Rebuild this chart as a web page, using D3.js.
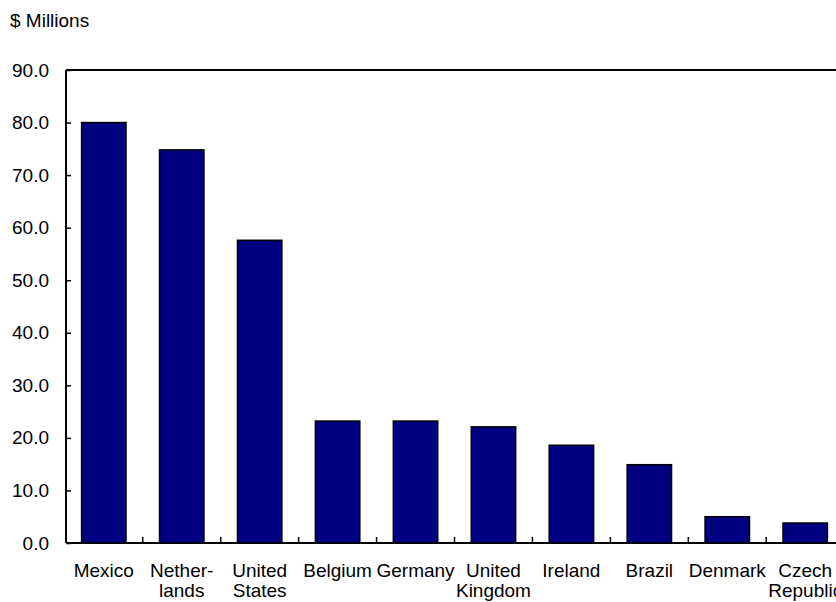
<!DOCTYPE html>
<html>
<head>
<meta charset="utf-8">
<script src="https://cdn.jsdelivr.net/npm/d3@7"></script>
<style>
  html, body { margin: 0; padding: 0; background: #fff; }
  svg { display: block; }
  text { font-family: "Liberation Sans", Arial, sans-serif; fill: #000; }
</style>
</head>
<body>
<svg id="chart" width="836" height="602"></svg>
<script>
const categories = [
  ["Mexico"], ["Nether-", "lands"], ["United", "States"], ["Belgium"], ["Germany"],
  ["United", "Kingdom"], ["Ireland"], ["Brazil"], ["Denmark"], ["Czech", "Republic"]
];
const values = [80.0, 74.8, 57.6, 23.2, 23.2, 22.1, 18.6, 14.9, 5.0, 3.8];
const yTicks = [0, 10, 20, 30, 40, 50, 60, 70, 80, 90];
const yTitle = "$ Millions";

const svg = d3.select("#chart");
const mLeft = 66, mTop = 70, mBottom = 543, mRight = 843;
const fs = 19;

const keys = categories.map((c, i) => i);
const x = d3.scaleBand().domain(keys).range([mLeft, mRight]).paddingInner(0.43).paddingOuter(0.2);
const y = d3.scaleLinear().domain([0, 90]).range([mBottom, mTop]);

// bars
svg.append("g").selectAll("rect").data(values).join("rect")
  .attr("x", (d, i) => x(i))
  .attr("y", d => y(d))
  .attr("width", x.bandwidth())
  .attr("height", d => y(0) - y(d))
  .attr("fill", "#000080")
  .attr("stroke", "#000")
  .attr("stroke-width", 1.5);

// frame: top line, left axis, bottom axis
svg.append("line").attr("x1", mLeft).attr("x2", mRight).attr("y1", mTop).attr("y2", mTop)
  .attr("stroke", "#000").attr("stroke-width", 2);
svg.append("line").attr("x1", mLeft).attr("x2", mLeft).attr("y1", mTop).attr("y2", mBottom)
  .attr("stroke", "#000").attr("stroke-width", 2);
svg.append("line").attr("x1", mLeft).attr("x2", mRight).attr("y1", mBottom).attr("y2", mBottom)
  .attr("stroke", "#000").attr("stroke-width", 2);

// y axis (ticks point inward)
const yAxis = d3.axisLeft(y).tickValues(yTicks).tickFormat(d3.format(".1f")).tickSizeInner(-5).tickSizeOuter(0).tickPadding(17);
const gy = svg.append("g").attr("transform", `translate(${mLeft},0)`).call(yAxis);
gy.select(".domain").remove();
gy.selectAll(".tick line").attr("stroke", "#000").attr("stroke-width", 1.5);
gy.selectAll(".tick text").attr("font-size", fs).attr("font-family", "Liberation Sans, Arial, sans-serif").attr("fill", "#000");

// x category boundary ticks (pointing up)
const step = x.step();
const bounds = keys.slice(1).map(i => x(i) - (step - x.bandwidth()) / 2);
svg.append("g").selectAll("line").data(bounds).join("line")
  .attr("x1", d => d).attr("x2", d => d)
  .attr("y1", mBottom).attr("y2", mBottom - 6)
  .attr("stroke", "#000").attr("stroke-width", 1.5);

// x labels
const lab = svg.append("g").attr("font-size", fs).attr("text-anchor", "middle");
categories.forEach((lines, i) => {
  const cx = x(i) + x.bandwidth() / 2;
  const t = lab.append("text").attr("x", cx).attr("y", 577);
  lines.forEach((s, j) => {
    t.append("tspan").attr("x", cx).attr("dy", j === 0 ? 0 : 20).text(s);
  });
});

// title
svg.append("text").attr("x", 10).attr("y", 27).attr("font-size", fs).text(yTitle);
</script>
</body>
</html>
